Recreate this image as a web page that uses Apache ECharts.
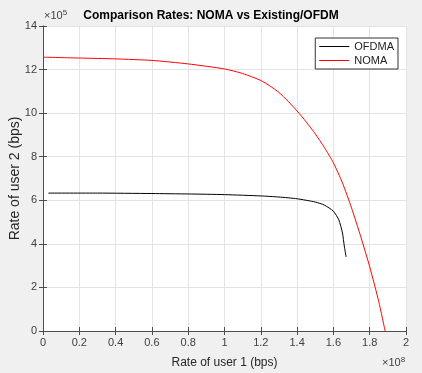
<!DOCTYPE html>
<html>
<head>
<meta charset="utf-8">
<script src="https://cdn.jsdelivr.net/npm/echarts@6/dist/echarts.min.js"></script>
<style>
  html, body { margin: 0; padding: 0; background: #f0f0f0; }
  #chart { width: 422px; height: 373px; }
</style>
</head>
<body>
<div id="chart"></div>
<script>
// x values in units of 1e8 bps, y values in units of 1e5 bps
var nomaX = [0, 0.2, 0.4, 0.6, 0.8, 1.0, 1.1, 1.2, 1.25, 1.3, 1.35, 1.4, 1.45, 1.5, 1.55, 1.6, 1.65, 1.7, 1.75, 1.8, 1.85, 1.885];
var nomaY = [12.57, 12.53, 12.49, 12.42, 12.26, 12.03, 11.82, 11.5, 11.25, 10.95, 10.55, 10.1, 9.6, 9.05, 8.43, 7.72, 6.8, 5.65, 4.35, 2.95, 1.35, 0];

var ofdmaX = [0.03, 0.3, 0.6, 0.8, 1.0, 1.2, 1.3, 1.4, 1.5, 1.55, 1.6, 1.63, 1.65, 1.66, 1.67];
var ofdmaY = [6.33, 6.33, 6.31, 6.29, 6.26, 6.2, 6.15, 6.07, 5.92, 5.78, 5.5, 5.1, 4.5, 3.9, 3.4];

var xTicks = [0, 0.2, 0.4, 0.6, 0.8, 1, 1.2, 1.4, 1.6, 1.8, 2];
var yTicks = [0, 2, 4, 6, 8, 10, 12, 14];

function pairs(xs, ys) {
  var out = [];
  for (var i = 0; i < xs.length; i++) out.push([xs[i], ys[i]]);
  return out;
}

var chart = echarts.init(document.getElementById('chart'));

var font = 'Liberation Sans, Arial, sans-serif';
var axisColor = '#4d4d4d';

var option = {
  backgroundColor: '#f0f0f0',
  animation: false,
  title: {
    text: 'Comparison Rates: NOMA vs Existing/OFDM',
    left: 'center',
    top: 5,
    textStyle: { fontFamily: font, fontSize: 12, fontWeight: 'bold', color: '#000' }
  },
  legend: {
    right: 24,
    top: 38,
    orient: 'vertical',
    icon: 'rect',
    itemWidth: 30,
    itemHeight: 1,
    itemGap: 3,
    padding: [3, 4, 3, 4],
    borderColor: '#333',
    borderWidth: 1,
    backgroundColor: '#fff',
    textStyle: { fontFamily: font, fontSize: 11, color: '#222' },
    data: ['OFDMA', 'NOMA']
  },
  grid: {
    left: 43, top: 26, width: 363, height: 305,
    outerBoundsMode: 'none', containLabel: false,
    backgroundColor: '#fff', show: true, borderWidth: 0
  },
  xAxis: [{
    type: 'value',
    min: xTicks[0], max: xTicks[xTicks.length - 1], interval: 0.2,
    name: 'Rate of user 1 (bps)',
    nameLocation: 'middle',
    nameGap: 26,
    nameMoveOverlap: false,
    nameTextStyle: { fontFamily: font, fontSize: 12, color: '#262626' },
    axisLine: { lineStyle: { color: axisColor } },
    axisTick: { inside: true, length: 4, lineStyle: { color: axisColor } },
    axisLabel: {
      fontFamily: font, fontSize: 11, color: '#404040', margin: 6,
      formatter: function (v) { return String(Math.round(v * 10) / 10); }
    },
    splitLine: { show: true, lineStyle: { color: '#e3e3e3' } }
  }, {
    type: 'value', position: 'top',
    min: xTicks[0], max: xTicks[xTicks.length - 1], interval: 0.2,
    axisLine: { show: true, lineStyle: { color: axisColor } },
    axisTick: { inside: true, length: 4, lineStyle: { color: axisColor } },
    axisLabel: { show: false },
    splitLine: { show: false }
  }],
  yAxis: [{
    type: 'value',
    min: yTicks[0], max: yTicks[yTicks.length - 1], interval: 2,
    name: 'Rate of user 2 (bps)',
    nameLocation: 'middle',
    nameGap: 21,
    nameMoveOverlap: false,
    nameTextStyle: { fontFamily: font, fontSize: 14, color: '#262626' },
    axisLine: { show: true, lineStyle: { color: axisColor } },
    axisTick: { show: true, inside: true, length: 4, lineStyle: { color: axisColor } },
    axisLabel: { fontFamily: font, fontSize: 11, color: '#404040', margin: 6 },
    splitLine: { show: true, lineStyle: { color: '#e3e3e3' } }
  }, {
    type: 'value', position: 'right',
    min: yTicks[0], max: yTicks[yTicks.length - 1], interval: 2,
    axisLine: { show: true, lineStyle: { color: axisColor } },
    axisTick: { show: true, inside: true, length: 4, lineStyle: { color: axisColor } },
    axisLabel: { show: false },
    splitLine: { show: false }
  }],
  graphic: [{
    type: 'text', left: 44, top: 9,
    style: {
      text: '×10{s|5}', fontFamily: font, fontSize: 11, fill: '#404040',
      rich: { s: { fontSize: 8, verticalAlign: 'top', padding: [0, 0, 6, 0] } }
    }
  }, {
    type: 'text', left: 382, top: 356,
    style: {
      text: '×10{s|8}', fontFamily: font, fontSize: 11, fill: '#404040',
      rich: { s: { fontSize: 8, verticalAlign: 'top', padding: [0, 0, 6, 0] } }
    }
  }],
  series: [{
    name: 'OFDMA',
    type: 'line',
    data: pairs(ofdmaX, ofdmaY),
    showSymbol: false,
    symbol: 'none',
    smooth: 0.2,
    itemStyle: { color: '#000' },
    lineStyle: { color: '#000', width: 1 }
  }, {
    name: 'NOMA',
    type: 'line',
    data: pairs(nomaX, nomaY),
    showSymbol: false,
    symbol: 'none',
    smooth: 0.2,
    itemStyle: { color: '#ff0000' },
    lineStyle: { color: '#ff0000', width: 1 }
  }]
};

chart.setOption(option);
</script>
</body>
</html>
